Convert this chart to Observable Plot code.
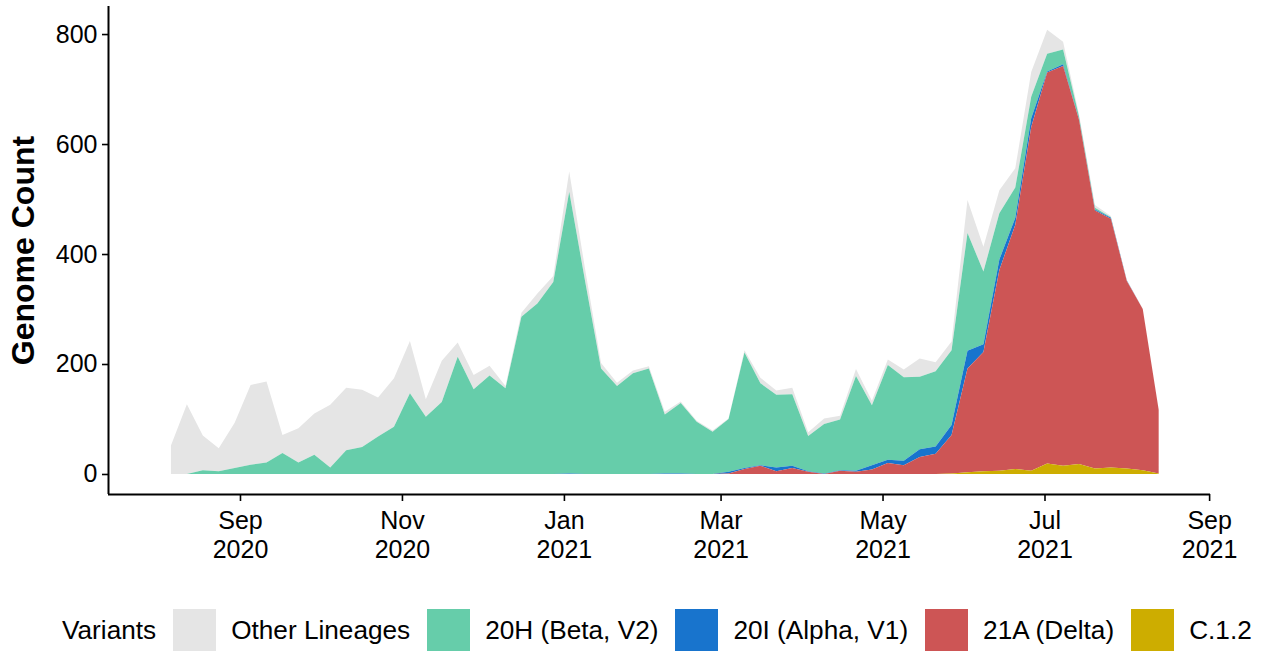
<!DOCTYPE html>
<html><head><meta charset="utf-8">
<script src="https://cdn.jsdelivr.net/npm/d3@7"></script>
<script src="https://cdn.jsdelivr.net/npm/@observablehq/plot@0.6"></script>
<style>
body{margin:0;background:#fff;font-family:"Liberation Sans",Arial,sans-serif;}
#legend{display:flex;align-items:center;height:44px;margin-top:42px;padding-left:62px;font-size:26.2px;color:#000;white-space:nowrap}
.sw{width:43px;height:43px;margin-left:17px;margin-right:15px;flex:none}
</style></head><body><div id="chart"></div><div id="legend"></div>
<script>
const dates = ["2020-08-06","2020-08-12","2020-08-18","2020-08-24","2020-08-30","2020-09-05","2020-09-11","2020-09-17","2020-09-23","2020-09-29",
"2020-10-05","2020-10-11","2020-10-17","2020-10-23","2020-10-29","2020-11-04","2020-11-10","2020-11-16","2020-11-22","2020-11-28",
"2020-12-04","2020-12-10","2020-12-16","2020-12-22","2020-12-28","2021-01-03","2021-01-09","2021-01-15","2021-01-21","2021-01-27",
"2021-02-02","2021-02-08","2021-02-14","2021-02-20","2021-02-26","2021-03-04","2021-03-10","2021-03-16","2021-03-22","2021-03-28",
"2021-04-03","2021-04-09","2021-04-15","2021-04-21","2021-04-27","2021-05-03","2021-05-09","2021-05-15","2021-05-21","2021-05-27",
"2021-06-02","2021-06-08","2021-06-14","2021-06-20","2021-06-26","2021-07-02","2021-07-08","2021-07-14","2021-07-20","2021-07-26",
"2021-08-01","2021-08-07","2021-08-13"];
const otherLineages = [52,127,63,42,82,145,147,33,62,75, 114,114,104,71,88,95,32,75,26,26, 18,4,7,18,11,37,22,10,6,5, 4,5,3,2,2,1,4,10,8,12, 7,10,7,13,8,10,14,33,16,16, 60,45,42,35,45,44,14,4,5,2, 1,1,1];
const beta20H = [0,0,7,5,11,17,21,38,21,35, 12,43,49,68,86,147,104,131,213,154, 179,156,286,310,349,512,350,192,160,183, 192,107,128,95,77,96,210,149,132,130, 64,90,92,172,109,172,152,132,137,136, 214,132,84,55,39,32,27,5,3,1, 0,0,0];
const alpha20I = [0,0,0,0,0,0,0,0,0,0, 0,0,0,0,0,0,0,0,0,0, 0,0,0,0,0,1,0,0,0,0, 0,1,1,0,0,3,2,1,7,4, 1,1,1,2,8,6,8,14,13,18, 32,14,19,13,16,2,3,1,2,2, 1,0,0];
const delta21A = [0,0,0,0,0,0,0,0,0,0, 0,0,0,0,0,0,0,0,0,0, 0,0,0,0,0,0,0,0,0,0, 0,0,0,0,0,1,9,15,5,11, 4,0,6,4,8,20,16,31,37,70, 189,217,365,444,625,711,727,626,469,452, 341,293,116];
const c12 = [0,0,0,0,0,0,0,0,0,0, 0,0,0,0,0,0,0,0,0,0, 0,0,0,0,0,0,0,0,0,0, 0,0,0,0,0,0,0,0,0,0, 0,0,0,0,0,0,0,0,0,1, 3,5,6,9,6,19,15,18,10,12, 10,7,1];
const variants = ["Other Lineages","20H (Beta, V2)","20I (Alpha, V1)","21A (Delta)","C.1.2"];
const colors = ["#e5e5e5","#66cdaa","#1874cd","#cd5555","#cdad00"];
const yTicks = [0,200,400,600,800];
const series = [otherLineages, beta20H, alpha20I, delta21A, c12];
const data = [];
dates.forEach((d,i)=>series.forEach((s,j)=>data.push({date:new Date(d+"T00:00Z"), variant:variants[j], count:s[i]})));
const xMin = new Date("2020-07-13T07:00Z"), xMax = new Date("2021-09-01T08:00Z");
const yMin = -36.4, yMax = 851;
const plot = Plot.plot({
  width:1262, height:566, marginLeft:108, marginRight:52, marginTop:6, marginBottom:72,
  style:{fontFamily:"'Liberation Sans', Arial, sans-serif", fontSize:"25px", color:"#000", background:"#fff", overflow:"visible"},
  x:{type:"utc", domain:[xMin, xMax]},
  y:{domain:[yMin, yMax]},
  color:{domain:variants, range:colors},
  marks:[
    Plot.areaY(data,{x:"date", y:"count", fill:"variant", z:"variant", order: variants.slice().reverse()}),
    Plot.axisX({ticks: d3.utcMonth.every(2), tickFormat: d => d3.utcFormat("%b")(d) + "\n" + d3.utcFormat("%Y")(d), tickSize:7, tickPadding:7, lineHeight:1.16, label:null, stroke:"#000", strokeWidth:1.6, fill:"#000"}),
    Plot.axisY({ticks: yTicks, tickSize:6, tickPadding:5, label:"Genome Count", labelAnchor:"center", labelArrow:"none", labelOffset:97, stroke:"#000", strokeWidth:1.6, fill:"#000"}),
    Plot.ruleX([xMin], {stroke:"#000", strokeWidth:2}),
    Plot.ruleY([yMin], {stroke:"#000", strokeWidth:2})
  ]
});
document.getElementById("chart").appendChild(plot);
const lab = plot.querySelector('[aria-label="y-axis label"] text');
if (lab) { lab.style.fontWeight = "bold"; lab.style.fontSize = "32px"; }
const leg = document.getElementById("legend");
const t0 = document.createElement("span"); t0.textContent = "Variants"; leg.appendChild(t0);
variants.forEach((v,i)=>{
  const sw = document.createElement("span"); sw.className="sw"; sw.style.background = colors[i]; leg.appendChild(sw);
  const t = document.createElement("span"); t.textContent = v; leg.appendChild(t);
});
</script></body></html>
